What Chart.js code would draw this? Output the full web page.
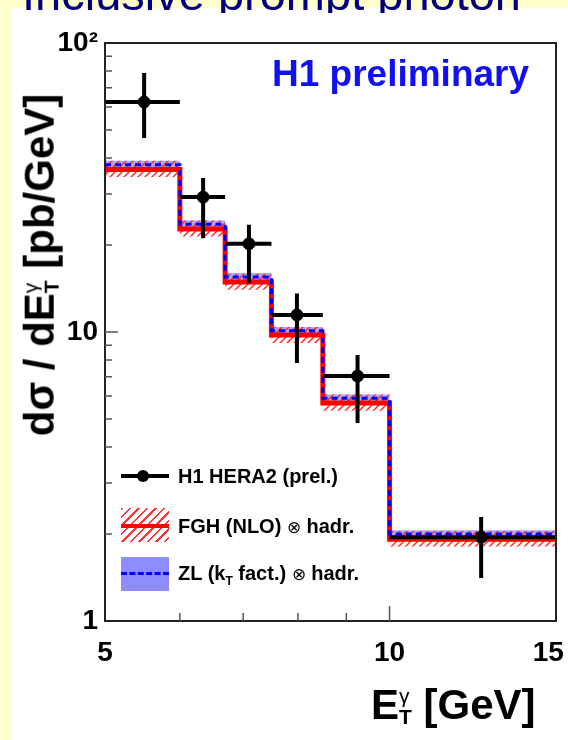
<!DOCTYPE html>
<html>
<head>
<meta charset="utf-8">
<script src="https://cdn.jsdelivr.net/npm/chart.js@4.4.1/dist/chart.umd.min.js"></script>
<style>
body{margin:0;width:568px;height:740px;overflow:hidden;position:relative;background:#ffffcc;font-family:"Liberation Sans",Arial,sans-serif;}
#panel{position:absolute;left:11px;top:8px;width:557px;height:732px;background:#fff;}
#titleClip{position:absolute;left:0;top:0;width:568px;height:13px;overflow:hidden;z-index:3;}
#title{position:absolute;left:22px;top:-30px;font-size:47px;line-height:1;color:#000080;white-space:nowrap;}
#wrap{position:absolute;left:0;top:0;width:568px;height:740px;z-index:2;}
.txt{position:absolute;white-space:nowrap;font-weight:bold;line-height:1;color:#000;z-index:4;}
#h1{left:272px;top:55px;font-size:37px;color:#1010f0;}
#ytitle{left:40px;top:265px;font-size:42px;transform:translate(-50%,-50%) rotate(-90deg);}
#xtitle{left:371px;top:684px;font-size:42px;}
.ss{display:inline-block;vertical-align:-0.22em;font-size:0.5em;line-height:1;text-align:left;}
.ss span{display:block;}
.ss .g{font-weight:normal;}
.leg{font-size:20px;left:178px;}
.sym{position:absolute;z-index:4;}
</style>
</head>
<body>
<div id="panel"></div>
<div id="titleClip"><div id="title">Inclusive prompt photon</div></div>
<div id="wrap"><canvas id="c"></canvas></div>
<div class="txt" id="h1">H1 preliminary</div>
<div class="txt" id="ytitle">dσ / dE<span class="ss"><span class="g">γ</span><span>T</span></span> [pb/GeV]</div>
<div class="txt" id="xtitle">E<span class="ss"><span class="g">γ</span><span>T</span></span> [GeV]</div>

<div class="sym" style="left:121px;top:474px;width:48px;height:4px;background:#000;"></div>
<div class="sym" style="left:137px;top:470px;width:12px;height:12px;border-radius:50%;background:#000;"></div>
<div class="txt leg" style="top:466px;">H1 HERA2 (prel.)</div>

<div class="sym" style="left:121px;top:508px;width:48px;height:34px;background:repeating-linear-gradient(135deg,#ff3030 0 1.6px,transparent 1.6px 6px);"></div>
<div class="sym" style="left:121px;top:524px;width:48px;height:4px;background:#ff0000;"></div>
<div class="txt leg" style="top:516px;">FGH (NLO) <span style="font-weight:normal;font-size:17px;">⊗</span> hadr.</div>

<div class="sym" style="left:121px;top:557px;width:48px;height:34px;background:#8d8dff;"></div>
<div class="sym" style="left:121px;top:572px;width:48px;height:0;border-top:3px dashed #0000ff;"></div>
<div class="txt leg" style="top:563px;">ZL (k<sub style="font-size:12px;">T</sub> fact.) <span style="font-weight:normal;font-size:17px;">⊗</span> hadr.</div>

<script>
// bin edges in E_T (GeV)
const binEdges=[5,6,6.7,7.5,8.5,10,15];

// H1 HERA2 data
const dataX=[5.5,6.35,7.1,7.98,9.25,12.5];
const dataY=[62.5,29.3,20.2,11.45,7.04,1.95];
const dataYUp=[78.8,34.1,23.5,13.6,8.33,2.29];
const dataYDn=[46.9,21.1,14.8,7.81,4.84,1.41];

// FGH (NLO) x hadr.
const fghNlo=[36.5,22.7,14.9,9.76,5.68,1.92];
const fghHi=[39.1,24.3,15.9,10.4,6.08,2.05];
const fghLo=[34.4,21.4,14.0,9.17,5.34,1.81];

// ZL (kT fact.) x hadr.
const zlKt=[37.9,23.6,15.5,10.1,5.90,2.00];
const zlHi=[39.1,24.3,16.0,10.4,6.08,2.06];
const zlLo=[37.0,23.0,15.1,9.86,5.75,1.95];

// ticks
const xTickLabels=[5,10,15];
const yTickLabels=[1,10,100];
const xMinorTicks=[6,7,8,9];
const yMinorTicks=[2,3,4,5,6,7,8,9,20,30,40,50,60,70,80,90];

function steps(vals){
  const pts=vals.map((v,i)=>({x:binEdges[i],y:v}));
  pts.push({x:binEdges[binEdges.length-1],y:vals[vals.length-1]});
  return pts;
}

function hatch(){
  const c=document.createElement('canvas');
  c.width=c.height=7;
  const g=c.getContext('2d');
  g.strokeStyle='#ff2a2a';
  g.lineWidth=1.5;
  g.beginPath();
  g.moveTo(-1,8);g.lineTo(8,-1);
  g.moveTo(-2,2);g.lineTo(2,-2);
  g.moveTo(5,9);g.lineTo(9,5);
  g.stroke();
  return g.createPattern(c,'repeat');
}

const errorBars={
  id:'errorBars',
  afterDatasetsDraw(chart){
    const {ctx,scales:{x,y}}=chart;
    ctx.save();
    ctx.strokeStyle='#000';
    ctx.lineWidth=4;
    dataX.forEach((v,i)=>{
      const px=x.getPixelForValue(v), py=y.getPixelForValue(dataY[i]);
      ctx.beginPath();
      ctx.moveTo(x.getPixelForValue(binEdges[i]),py);
      ctx.lineTo(x.getPixelForValue(binEdges[i+1]),py);
      ctx.moveTo(px,y.getPixelForValue(dataYUp[i]));
      ctx.lineTo(px,y.getPixelForValue(dataYDn[i]));
      ctx.stroke();
    });
    ctx.restore();
  }
};

const frame={
  id:'frame',
  afterDraw(chart){
    const {ctx,chartArea:a,scales:{x,y}}=chart;
    ctx.save();
    ctx.strokeStyle='#222';
    ctx.lineWidth=2;
    ctx.strokeRect(a.left,a.top,a.right-a.left,a.bottom-a.top);
    ctx.strokeStyle='#555';
    ctx.lineWidth=1.5;
    ctx.beginPath();
    yMinorTicks.forEach(v=>{const p=y.getPixelForValue(v);ctx.moveTo(a.left,p);ctx.lineTo(a.left+7,p);});
    yTickLabels.slice(1,2).forEach(v=>{const p=y.getPixelForValue(v);ctx.moveTo(a.left,p);ctx.lineTo(a.left+13,p);});
    xMinorTicks.forEach(v=>{const p=x.getPixelForValue(v);ctx.moveTo(p,a.bottom);ctx.lineTo(p,a.bottom-8);});
    xTickLabels.slice(1,2).forEach(v=>{const p=x.getPixelForValue(v);ctx.moveTo(p,a.bottom);ctx.lineTo(p,a.bottom-15);});
    ctx.stroke();
    ctx.restore();
  }
};

const tickFont={family:'"Liberation Sans", Arial, sans-serif',size:28,weight:'bold'};

new Chart(document.getElementById('c'),{
  type:'line',
  data:{
    datasets:[
      {label:'H1 HERA2 (prel.)',data:dataX.map((v,i)=>({x:v,y:dataY[i]})),showLine:false,
       pointRadius:6,pointBackgroundColor:'#000',pointBorderColor:'#000'},
      {label:'ZL',data:steps(zlKt),stepped:'before',borderColor:'#0000ff',borderWidth:3,borderDash:[6,4],pointRadius:0,fill:false},
      {label:'FGH',data:steps(fghNlo),stepped:'before',borderColor:'#ff0000',borderWidth:5,pointRadius:0,fill:false},
      {label:'FGH hi',data:steps(fghHi),stepped:'before',borderWidth:0,borderColor:'rgba(0,0,0,0)',pointRadius:0,fill:'+1',backgroundColor:hatch()},
      {label:'FGH lo',data:steps(fghLo),stepped:'before',borderWidth:0,borderColor:'rgba(0,0,0,0)',pointRadius:0,fill:false},
      {label:'ZL hi',data:steps(zlHi),stepped:'before',borderWidth:0,borderColor:'rgba(0,0,0,0)',pointRadius:0,fill:'+1',backgroundColor:'rgba(140,140,255,0.75)'},
      {label:'ZL lo',data:steps(zlLo),stepped:'before',borderWidth:0,borderColor:'rgba(0,0,0,0)',pointRadius:0,fill:false}
    ]
  },
  options:{
    responsive:true,
    maintainAspectRatio:false,
    animation:false,
    events:[],
    layout:{autoPadding:false,padding:{left:0,right:12,top:43,bottom:0}},
    plugins:{legend:{display:false},tooltip:{enabled:false}},
    scales:{
      x:{
        type:'logarithmic',min:5,max:15,
        afterBuildTicks(s){s.ticks=xTickLabels.map(v=>({value:v}));},
        afterFit(s){s.height=119;s.paddingLeft=0;s.paddingRight=0;},
        ticks:{callback:v=>v===15?'15\u2007':String(v),autoSkip:false,maxRotation:0,padding:15,color:'#000',font:tickFont},
        grid:{display:false,drawTicks:false},
        border:{display:false}
      },
      y:{
        type:'logarithmic',min:1,max:100,
        afterBuildTicks(s){s.ticks=yTickLabels.map(v=>({value:v}));},
        afterFit(s){s.width=105;s.paddingTop=0;s.paddingBottom=0;},
        ticks:{callback:v=>v===100?'10\u00b2':String(v),autoSkip:false,padding:7,color:'#000',font:tickFont},
        grid:{display:false,drawTicks:false},
        border:{display:false}
      }
    }
  },
  plugins:[errorBars,frame]
});
</script>
</body>
</html>
